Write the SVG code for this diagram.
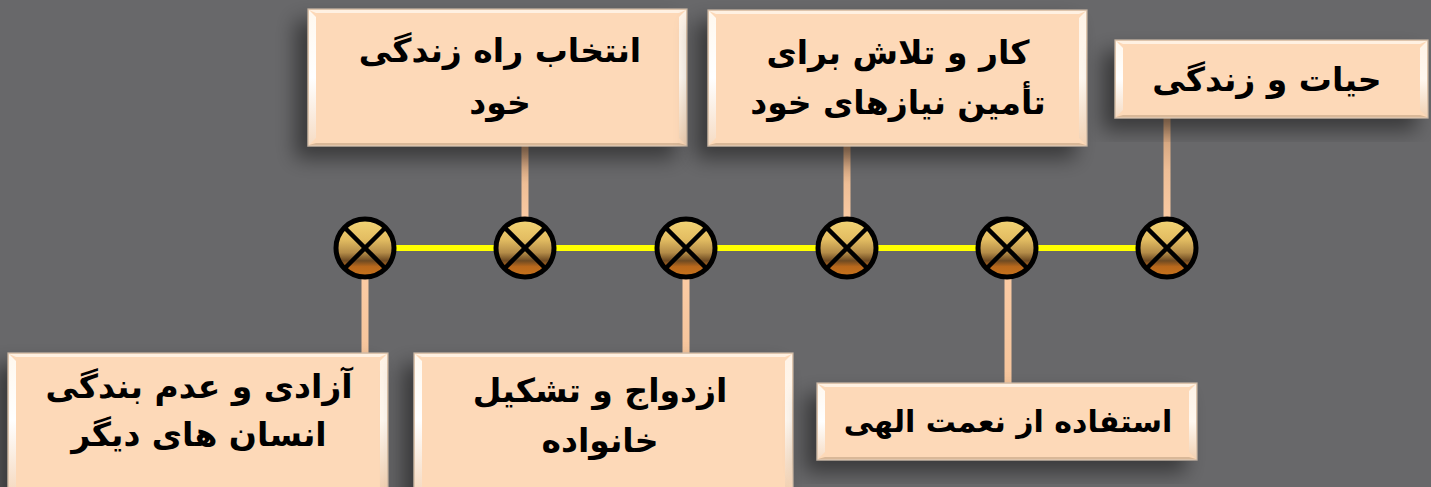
<svg xmlns="http://www.w3.org/2000/svg" width="1431" height="487" viewBox="0 0 1431 487">
<defs>
  <style>
    .box{fill:#fdd9b8;stroke:#c9b6a4;stroke-width:1.2}
    .bl{fill:url(#bevL)}
    .br{fill:url(#bevR)}
    .bt{fill:#fff1e2}
    .bb{fill:#d9b898}
    .lbl{font-family:"DejaVu Sans","Noto Sans",sans-serif;font-weight:bold;font-size:33px;fill:#000;text-anchor:middle}
    .up{fill:url(#stemUp)}
    .down{fill:url(#stemDown)}
    .cross{stroke:#000;stroke-width:4.5;stroke-linecap:butt}
    .node{fill:url(#gold);stroke:#000;stroke-width:5}
  </style>
  <filter id="sh" x="-20%" y="-30%" width="140%" height="160%">
    <feDropShadow dx="-12" dy="12" stdDeviation="10" flood-color="#000" flood-opacity="0.45"/>
  </filter>
  <linearGradient id="bevL" x1="0" y1="0" x2="0" y2="1">
    <stop offset="0" stop-color="#fff8ee"/>
    <stop offset="0.5" stop-color="#ffffff"/>
    <stop offset="1" stop-color="#f6dcc4"/>
  </linearGradient>
  <linearGradient id="bevR" x1="0" y1="0" x2="0" y2="1">
    <stop offset="0" stop-color="#fff3e6"/>
    <stop offset="0.5" stop-color="#fff8f0"/>
    <stop offset="1" stop-color="#f2d2b4"/>
  </linearGradient>
  <linearGradient id="gold" x1="0" y1="0" x2="0" y2="1">
    <stop offset="0" stop-color="#f2d475"/>
    <stop offset="0.35" stop-color="#e3bd62"/>
    <stop offset="0.58" stop-color="#b48c48"/>
    <stop offset="0.72" stop-color="#6e4a22"/>
    <stop offset="0.82" stop-color="#b8681c"/>
    <stop offset="1" stop-color="#c9741c"/>
  </linearGradient>
  <linearGradient id="stemUp" x1="0" y1="0" x2="0" y2="1">
    <stop offset="0" stop-color="#c19470"/>
    <stop offset="0.5" stop-color="#eebe96"/>
    <stop offset="1" stop-color="#fbcba4"/>
  </linearGradient>
  <linearGradient id="stemDown" x1="0" y1="0" x2="0" y2="1">
    <stop offset="0" stop-color="#fbcba4"/>
    <stop offset="1" stop-color="#f6c59c"/>
  </linearGradient>
</defs>

<rect x="0" y="0" width="1431" height="487" fill="#68686a"/>

<g id="connectors">
  <rect x="365" y="245" width="802" height="6" fill="#ffff00"/>
  <rect class="down" x="361.5" y="270" width="7" height="86"/>
  <rect class="up" x="521.5" y="146" width="7" height="76"/>
  <rect class="down" x="682.5" y="270" width="7" height="86"/>
  <rect class="up" x="843.5" y="146" width="7" height="76"/>
  <rect class="down" x="1004.5" y="270" width="7" height="116"/>
  <rect class="up" x="1163.5" y="118" width="7" height="104"/>
</g>

<g id="markers">
  <g id="m1"><circle class="node" cx="365" cy="248" r="29"/><line class="cross" x1="344.5" y1="227.5" x2="385.5" y2="268.5"/><line class="cross" x1="385.5" y1="227.5" x2="344.5" y2="268.5"/></g>
  <g id="m2"><circle class="node" cx="525" cy="248" r="29"/><line class="cross" x1="504.5" y1="227.5" x2="545.5" y2="268.5"/><line class="cross" x1="545.5" y1="227.5" x2="504.5" y2="268.5"/></g>
  <g id="m3"><circle class="node" cx="686" cy="248" r="29"/><line class="cross" x1="665.5" y1="227.5" x2="706.5" y2="268.5"/><line class="cross" x1="706.5" y1="227.5" x2="665.5" y2="268.5"/></g>
  <g id="m4"><circle class="node" cx="847" cy="248" r="29"/><line class="cross" x1="826.5" y1="227.5" x2="867.5" y2="268.5"/><line class="cross" x1="867.5" y1="227.5" x2="826.5" y2="268.5"/></g>
  <g id="m5"><circle class="node" cx="1007" cy="248" r="29"/><line class="cross" x1="986.5" y1="227.5" x2="1027.5" y2="268.5"/><line class="cross" x1="1027.5" y1="227.5" x2="986.5" y2="268.5"/></g>
  <g id="m6"><circle class="node" cx="1167" cy="248" r="29"/><line class="cross" x1="1146.5" y1="227.5" x2="1187.5" y2="268.5"/><line class="cross" x1="1187.5" y1="227.5" x2="1146.5" y2="268.5"/></g>
</g>

<g id="box-top1">
  <rect class="box" x="308" y="9" width="379" height="137" filter="url(#sh)"/>
  <polygon class="bt" points="309,10 686,10 679,13 316,13"/>
  <polygon class="bb" points="309,145 686,145 679,143 316,143"/>
  <polygon class="bl" points="309,10 316,17 316,138 309,145"/>
  <polygon class="br" points="686,10 679,17 679,138 686,145"/>
  <text class="lbl" direction="rtl" x="500" y="62">انتخاب راه زندگی</text>
  <text class="lbl" direction="rtl" x="500" y="114">خود</text>
</g>

<g id="box-top2">
  <rect class="box" x="708" y="10" width="379" height="136" filter="url(#sh)"/>
  <polygon class="bt" points="709,11 1086,11 1079,14 716,14"/>
  <polygon class="bb" points="709,145 1086,145 1079,143 716,143"/>
  <polygon class="bl" points="709,11 716,18 716,138 709,145"/>
  <polygon class="br" points="1086,11 1079,18 1079,138 1086,145"/>
  <text class="lbl" direction="rtl" x="898" y="64">کار و تلاش برای</text>
  <text class="lbl" direction="rtl" x="898" y="114">تأمین نیازهای خود</text>
</g>

<g id="box-top3">
  <rect class="box" x="1115" y="40" width="313" height="78" filter="url(#sh)"/>
  <polygon class="bt" points="1116,41 1427,41 1420,44 1123,44"/>
  <polygon class="bb" points="1116,117 1427,117 1420,115 1123,115"/>
  <polygon class="bl" points="1116,41 1123,48 1123,110 1116,117"/>
  <polygon class="br" points="1427,41 1420,48 1420,110 1427,117"/>
  <text class="lbl" direction="rtl" x="1267" y="91">حیات و زندگی</text>
</g>

<g id="box-bot1">
  <rect class="box" x="8" y="353" width="380" height="145" filter="url(#sh)"/>
  <polygon class="bt" points="9,354 387,354 380,357 16,357"/>
  <polygon class="bl" points="9,354 16,361 16,487 9,487"/>
  <polygon class="br" points="387,354 380,361 380,487 387,487"/>
  <text class="lbl" direction="rtl" x="199" y="398">آزادی و عدم بندگی</text>
  <text class="lbl" direction="rtl" x="199" y="446">انسان های دیگر</text>
</g>

<g id="box-bot2">
  <rect class="box" x="414" y="353" width="379" height="145" filter="url(#sh)"/>
  <polygon class="bt" points="415,354 792,354 785,357 422,357"/>
  <polygon class="bl" points="415,354 422,361 422,487 415,487"/>
  <polygon class="br" points="792,354 785,361 785,487 792,487"/>
  <text class="lbl" direction="rtl" x="600" y="402">ازدواج و تشکیل</text>
  <text class="lbl" direction="rtl" x="600" y="452">خانواده</text>
</g>

<g id="box-bot3">
  <rect class="box" x="817" y="383" width="380" height="77" filter="url(#sh)"/>
  <polygon class="bt" points="818,384 1196,384 1189,387 825,387"/>
  <polygon class="bb" points="818,459 1196,459 1189,457 825,457"/>
  <polygon class="bl" points="818,384 825,391 825,452 818,459"/>
  <polygon class="br" points="1196,384 1189,391 1189,452 1196,459"/>
  <text class="lbl" direction="rtl" x="1008" y="432" style="font-size:30px">استفاده از نعمت الهی</text>
</g>
</svg>
